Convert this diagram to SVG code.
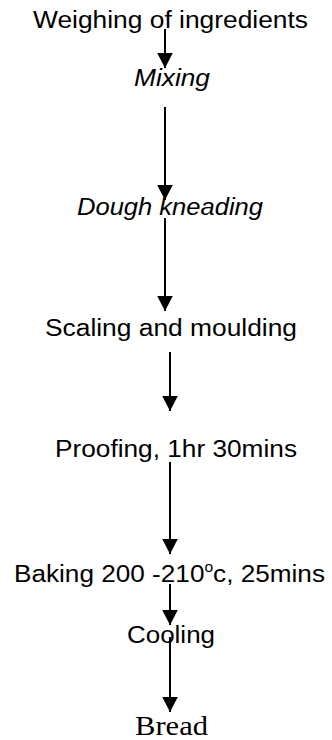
<svg xmlns="http://www.w3.org/2000/svg" width="332" height="740" viewBox="0 0 332 740">
<defs>
<marker id="ah" markerWidth="16" markerHeight="16" refX="15" refY="8" orient="auto" markerUnits="userSpaceOnUse">
<path d="M0,0.2 L15,8 L0,15.8 Z" fill="#000"/>
</marker>
<style>
.t{font-family:"Liberation Sans",Arial,sans-serif;font-size:23.5px;fill:#000}
.i{font-style:italic}
.s{font-family:"Liberation Serif","Times New Roman",serif;font-size:28px;fill:#000}
.c{stroke:#000;stroke-width:2;fill:none;marker-end:url(#ah)}
</style>
</defs>
<rect width="332" height="740" fill="#fff"/>
<g id="connectors">
<line class="c" x1="165" y1="29" x2="165" y2="68"/>
<line class="c" x1="165" y1="107" x2="165" y2="200"/>
<line class="c" x1="165" y1="218" x2="165" y2="311"/>
<line class="c" x1="170" y1="352" x2="170" y2="411"/>
<line class="c" x1="170" y1="462" x2="170" y2="554"/>
<line class="c" x1="170" y1="584" x2="170" y2="625"/>
<line class="c" x1="170" y1="637" x2="170" y2="712"/>
</g>
<g id="n1"><text class="t" x="33" y="28" textLength="275" lengthAdjust="spacingAndGlyphs">Weighing of ingredients</text></g>
<g id="n2"><text class="t i" x="134" y="86" textLength="76" lengthAdjust="spacingAndGlyphs">Mixing</text></g>
<g id="n3"><text class="t i" x="77" y="215" textLength="186" lengthAdjust="spacingAndGlyphs">Dough kneading</text></g>
<g id="n4"><text class="t" x="45" y="336" textLength="252" lengthAdjust="spacingAndGlyphs">Scaling and moulding</text></g>
<g id="n5"><text class="t" x="55" y="457" textLength="242" lengthAdjust="spacingAndGlyphs">Proofing, 1hr 30mins</text></g>
<g id="n6"><text class="t" x="14" y="581.5" textLength="311" lengthAdjust="spacingAndGlyphs">Baking 200 -210<tspan font-size="14" dy="-10">o</tspan><tspan dy="10">c, 25mins</tspan></text></g>
<g id="n7"><text class="t" x="127" y="643" textLength="88" lengthAdjust="spacingAndGlyphs">Cooling</text></g>
<g id="n8"><text class="s" x="135" y="735" textLength="73" lengthAdjust="spacingAndGlyphs">Bread</text></g>
</svg>
